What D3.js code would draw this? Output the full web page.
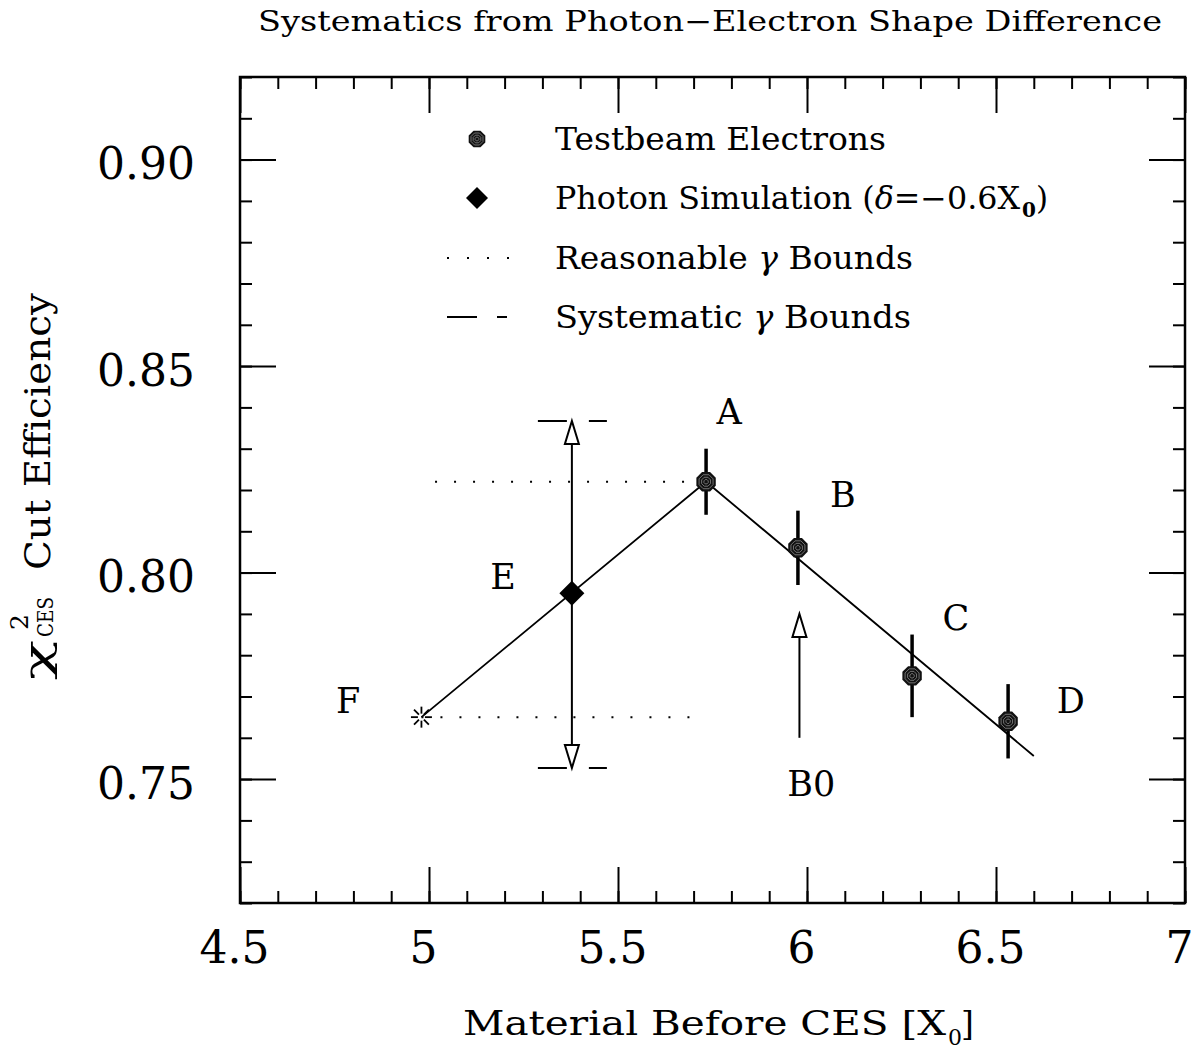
<!DOCTYPE html>
<html>
<head>
<meta charset="utf-8">
<script src="https://cdn.jsdelivr.net/npm/d3@7"></script>
<style>
  body { margin: 0; background: #fff; }
  svg text { font-family: "DejaVu Serif", serif; fill: #000; }
</style>
</head>
<body>
<svg id="chart"></svg>
<script>
// testbeam electron points (material [X0], efficiency, error)
const beamNames = ["A", "B", "C", "D"];
const beamX = [5.733, 5.976, 6.278, 6.532];
const beamY = [0.822, 0.806, 0.775, 0.764];
const beamErr = [0.008, 0.009, 0.010, 0.009];

// photon simulation point E and extrapolated point F
const photonX = 5.378, photonY = 0.795;
const pointF = [4.98, 0.765];

// straight-line trend through F -> A -> end
const trendX = [4.98, 5.733, 6.6];
const trendY = [0.765, 0.822, 0.7556];

// reasonable bounds (dotted) and systematic bounds (dashed)
const reasonableUpper = { x0: 5.016, x1: 5.733, y: 0.822 };
const reasonableLower = { x0: 4.98, x1: 5.717, y: 0.765 };
const systUpper = 0.8367, systLower = 0.7527;

// B0 arrow
const b0X = 5.98, b0From = 0.760, b0To = 0.790;

// text labels in data units
const labelText = ["A", "B", "C", "D", "E", "F", "B0"];
const labelX = [5.794, 6.095, 6.394, 6.698, 5.196, 4.786, 6.011];
const labelY = [0.836, 0.816, 0.786, 0.766, 0.796, 0.766, 0.746];

const xMajor = [4.5, 5, 5.5, 6, 6.5, 7];
const xLabels = ["4.5", "5", "5.5", "6", "6.5", "7"];
const yMajor = [0.75, 0.80, 0.85, 0.90];
const yLabels = ["0.75", "0.80", "0.85", "0.90"];

const size = { width: 1201, height: 1049 };
const margin = { left: 240, right: 16, top: 77, bottom: 146 };

const svg = d3.select("#chart").attr("width", size.width).attr("height", size.height);

const x = d3.scaleLinear().domain([4.5, 7]).range([margin.left, size.width - margin.right]);
const y = d3.scaleLinear().domain([0.72, 0.92]).range([size.height - margin.bottom, margin.top]);

const X0 = x.range()[0], X1 = x.range()[1], Y0 = y.range()[1], Y1 = y.range()[0];

// ---- axes (ticks on all four sides, pointing inward)
const xMinor = x.ticks(25);
const yMinor = y.ticks(20);

function noDomain(g) {
  g.select(".domain").remove();
  g.selectAll(".tick line").attr("stroke", "#000").attr("stroke-width", 2);
}

svg.append("g").attr("transform", `translate(0,${Y1})`)
  .call(d3.axisBottom(x).tickValues(xMinor).tickSize(-12).tickFormat(""))
  .call(noDomain);
const xb = svg.append("g").attr("transform", `translate(0,${Y1})`)
  .call(d3.axisBottom(x).tickValues(xMajor).tickSize(-36).tickPadding(29).tickFormat((d, i) => xLabels[i]))
  .call(noDomain);
xb.selectAll("text").attr("font-family", "DejaVu Serif").attr("font-size", 44).attr("dx", -6);

svg.append("g").attr("transform", `translate(0,${Y0})`)
  .call(d3.axisTop(x).tickValues(xMinor).tickSize(-12).tickFormat(""))
  .call(noDomain);
svg.append("g").attr("transform", `translate(0,${Y0})`)
  .call(d3.axisTop(x).tickValues(xMajor).tickSize(-36).tickFormat(""))
  .call(noDomain);

svg.append("g").attr("transform", `translate(${X0},0)`)
  .call(d3.axisLeft(y).tickValues(yMinor).tickSize(-12).tickFormat(""))
  .call(noDomain);
const yl = svg.append("g").attr("transform", `translate(${X0},0)`)
  .call(d3.axisLeft(y).tickValues(yMajor).tickSize(-36).tickPadding(45).tickFormat((d, i) => yLabels[i]))
  .call(noDomain);
yl.selectAll("text").attr("font-family", "DejaVu Serif").attr("font-size", 44).attr("dy", "0.43em");

svg.append("g").attr("transform", `translate(${X1},0)`)
  .call(d3.axisRight(y).tickValues(yMinor).tickSize(-12).tickFormat(""))
  .call(noDomain);
svg.append("g").attr("transform", `translate(${X1},0)`)
  .call(d3.axisRight(y).tickValues(yMajor).tickSize(-36).tickFormat(""))
  .call(noDomain);

svg.append("rect")
  .attr("x", X0).attr("y", Y0).attr("width", X1 - X0).attr("height", Y1 - Y0)
  .attr("fill", "none").attr("stroke", "#000").attr("stroke-width", 2.5);

// ---- title and axis titles
svg.append("text")
  .attr("x", 258).attr("y", 31)
  .attr("font-size", 28)
  .attr("textLength", 904).attr("lengthAdjust", "spacingAndGlyphs")
  .text("Systematics from Photon\u2212Electron Shape Difference");

svg.append("text").attr("x", 463).attr("y", 1035).attr("font-size", 33)
  .attr("textLength", 483).attr("lengthAdjust", "spacingAndGlyphs")
  .text("Material Before CES [X");
svg.append("text").attr("x", 948).attr("y", 1045).attr("font-size", 22).text("0");
svg.append("text").attr("x", 961).attr("y", 1035).attr("font-size", 33).text("]");

const yt = svg.append("g").attr("transform", "translate(50,680) rotate(-90)");
yt.append("text").attr("x", 0).attr("y", 0).attr("font-size", 35)
  .attr("textLength", 40).attr("lengthAdjust", "spacingAndGlyphs").text("\u03c7");
yt.append("text").attr("x", 50).attr("y", -22).attr("font-size", 25).text("2");
yt.append("text").attr("x", 43).attr("y", 3).attr("font-size", 23)
  .attr("textLength", 40).attr("lengthAdjust", "spacingAndGlyphs").text("CES");
yt.append("text").attr("x", 110).attr("y", 0).attr("font-size", 35)
  .attr("textLength", 277).attr("lengthAdjust", "spacingAndGlyphs").text("Cut Efficiency");

// ---- marker helpers
function octagon(r) {
  const pts = d3.range(8).map(i => {
    const a = Math.PI / 8 + i * Math.PI / 4;
    return [r * Math.cos(a), r * Math.sin(a)];
  });
  return "M" + pts.join("L") + "Z";
}
function beamMarker(g, cx, cy, r) {
  const m = g.append("g").attr("transform", `translate(${cx},${cy})`);
  m.append("path").attr("d", octagon(r)).attr("fill", "#111");
  [r * 0.72, r * 0.46, r * 0.22].forEach(rr => {
    m.append("path").attr("d", octagon(rr)).attr("fill", "none")
      .attr("stroke", "#8a8a8a").attr("stroke-width", 0.8);
  });
}
function diamond(g, cx, cy, r) {
  g.append("path")
    .attr("d", `M${cx},${cy - r}L${cx + r},${cy}L${cx},${cy + r}L${cx - r},${cy}Z`)
    .attr("fill", "#000");
}
function arrowHead(g, cx, tipY, dir) {
  // dir = -1 up, +1 down
  const base = tipY - dir * 23;
  g.append("path")
    .attr("d", `M${cx},${tipY}L${cx - 7},${base}L${cx + 7},${base}Z`)
    .attr("fill", "#fff").attr("stroke", "#000").attr("stroke-width", 2);
}

const plot = svg.append("g");

// dotted reasonable bounds
[reasonableUpper, reasonableLower].forEach(b => {
  plot.append("line")
    .attr("x1", x(b.x0)).attr("x2", x(b.x1)).attr("y1", y(b.y)).attr("y2", y(b.y))
    .attr("stroke", "#000").attr("stroke-width", 2).attr("stroke-dasharray", "2 17");
});

// trend line
const trend = trendX.map((d, i) => [d, trendY[i]]);
plot.append("path")
  .attr("d", d3.line().x(d => x(d[0])).y(d => y(d[1]))(trend))
  .attr("fill", "none").attr("stroke", "#000").attr("stroke-width", 1.8);

// systematic bound dashes around E
[systUpper, systLower].forEach(v => {
  plot.append("line")
    .attr("x1", x(photonX) - 34).attr("x2", x(photonX) + 35)
    .attr("y1", y(v)).attr("y2", y(v))
    .attr("stroke", "#000").attr("stroke-width", 2).attr("stroke-dasharray", "29 22 18");
});

// vertical arrows from E to systematic bounds
plot.append("line")
  .attr("x1", x(photonX)).attr("x2", x(photonX))
  .attr("y1", y(systUpper) + 20).attr("y2", y(systLower) - 20)
  .attr("stroke", "#000").attr("stroke-width", 2);
arrowHead(plot, x(photonX), y(systUpper), -1);
arrowHead(plot, x(photonX), y(systLower), 1);

// B0 arrow
plot.append("line")
  .attr("x1", x(b0X)).attr("x2", x(b0X)).attr("y1", y(b0From)).attr("y2", y(b0To) + 20)
  .attr("stroke", "#000").attr("stroke-width", 2);
arrowHead(plot, x(b0X), y(b0To), -1);

// error bars and testbeam markers
beamX.forEach((bx, i) => {
  plot.append("line")
    .attr("x1", x(bx)).attr("x2", x(bx))
    .attr("y1", y(beamY[i] - beamErr[i])).attr("y2", y(beamY[i] + beamErr[i]))
    .attr("stroke", "#000").attr("stroke-width", 3.5);
});
beamX.forEach((bx, i) => beamMarker(plot, x(bx), y(beamY[i]), 10.5));

// photon simulation diamond
diamond(plot, x(photonX), y(photonY), 12.5);

// star at F
const fs = plot.append("g").attr("transform", `translate(${x(pointF[0])},${y(pointF[1])})`);
d3.range(8).forEach(i => {
  const a = i * Math.PI / 4;
  fs.append("line")
    .attr("x1", 3.5 * Math.cos(a)).attr("y1", 3.5 * Math.sin(a))
    .attr("x2", 10.5 * Math.cos(a)).attr("y2", 10.5 * Math.sin(a))
    .attr("stroke", "#000").attr("stroke-width", 1.8);
});

// point labels
labelText.forEach((t, i) => {
  plot.append("text")
    .attr("x", x(labelX[i])).attr("y", y(labelY[i]))
    .attr("text-anchor", "middle").attr("font-size", 35)
    .text(t);
});

// ---- legend
const legX = 477, legText = 555;
const legRows = [139, 198, 258, 317];
const leg = svg.append("g");
beamMarker(leg, legX, legRows[0], 9);
diamond(leg, legX, legRows[1], 11);
leg.append("line").attr("x1", 447).attr("x2", 510).attr("y1", legRows[2]).attr("y2", legRows[2])
  .attr("stroke", "#000").attr("stroke-width", 2).attr("stroke-dasharray", "2 18");
leg.append("line").attr("x1", 447).attr("x2", 507).attr("y1", legRows[3]).attr("y2", legRows[3])
  .attr("stroke", "#000").attr("stroke-width", 2).attr("stroke-dasharray", "30 20 10");

function legText1(row, len) {
  return leg.append("text").attr("x", legText).attr("y", legRows[row] + 11).attr("font-size", 31)
    .attr("textLength", len).attr("lengthAdjust", "spacingAndGlyphs");
}
legText1(0, 331).text("Testbeam Electrons");
const l1 = leg.append("text").attr("x", legText).attr("y", legRows[1] + 11).attr("font-size", 31)
  .attr("textLength", 465).attr("lengthAdjust", "spacingAndGlyphs");
l1.append("tspan").text("Photon Simulation (");
l1.append("tspan").attr("font-style", "italic").text("\u03b4");
l1.append("tspan").text("=\u22120.6X");
leg.append("text").attr("x", 1022).attr("y", legRows[1] + 19).attr("font-size", 20)
  .attr("font-weight", "bold").text("0");
leg.append("text").attr("x", 1036).attr("y", legRows[1] + 11).attr("font-size", 31).text(")");
const l2 = legText1(2, 358);
l2.append("tspan").text("Reasonable ");
l2.append("tspan").attr("font-style", "italic").text("\u03b3");
l2.append("tspan").text(" Bounds");
const l3 = legText1(3, 356);
l3.append("tspan").text("Systematic ");
l3.append("tspan").attr("font-style", "italic").text("\u03b3");
l3.append("tspan").text(" Bounds");
</script>
</body>
</html>
